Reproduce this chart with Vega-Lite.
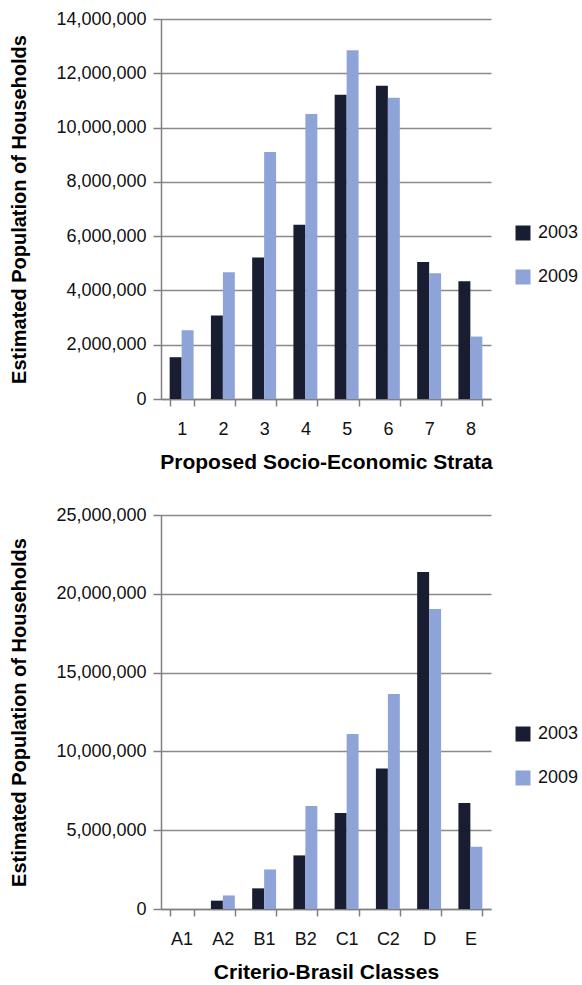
{
  "$schema": "https://vega.github.io/schema/vega-lite/v6.json",
  "padding": {"left": 9, "top": 10, "right": 0, "bottom": 2},
  "background": "white",
  "datasets": {
    "strata": [
      {"cat": "1", "year": "2003", "value": 1540000},
      {"cat": "1", "year": "2009", "value": 2530000},
      {"cat": "2", "year": "2003", "value": 3080000},
      {"cat": "2", "year": "2009", "value": 4670000},
      {"cat": "3", "year": "2003", "value": 5210000},
      {"cat": "3", "year": "2009", "value": 9100000},
      {"cat": "4", "year": "2003", "value": 6420000},
      {"cat": "4", "year": "2009", "value": 10500000},
      {"cat": "5", "year": "2003", "value": 11210000},
      {"cat": "5", "year": "2009", "value": 12850000},
      {"cat": "6", "year": "2003", "value": 11540000},
      {"cat": "6", "year": "2009", "value": 11100000},
      {"cat": "7", "year": "2003", "value": 5050000},
      {"cat": "7", "year": "2009", "value": 4630000},
      {"cat": "8", "year": "2003", "value": 4340000},
      {"cat": "8", "year": "2009", "value": 2300000}
    ],
    "classes": [
      {"cat": "A1", "year": "2003", "value": 0},
      {"cat": "A1", "year": "2009", "value": 0},
      {"cat": "A2", "year": "2003", "value": 530000},
      {"cat": "A2", "year": "2009", "value": 860000},
      {"cat": "B1", "year": "2003", "value": 1310000},
      {"cat": "B1", "year": "2009", "value": 2510000},
      {"cat": "B2", "year": "2003", "value": 3400000},
      {"cat": "B2", "year": "2009", "value": 6540000},
      {"cat": "C1", "year": "2003", "value": 6090000},
      {"cat": "C1", "year": "2009", "value": 11100000},
      {"cat": "C2", "year": "2003", "value": 8920000},
      {"cat": "C2", "year": "2009", "value": 13640000},
      {"cat": "D", "year": "2003", "value": 21380000},
      {"cat": "D", "year": "2009", "value": 19030000},
      {"cat": "E", "year": "2003", "value": 6730000},
      {"cat": "E", "year": "2009", "value": 3950000}
    ]
  },
  "config": {
    "font": "Liberation Sans",
    "view": {"stroke": null},
    "axis": {
      "labelFont": "Liberation Sans",
      "labelFontSize": 18,
      "labelColor": "#111111",
      "titleFont": "Liberation Sans",
      "titleFontSize": 20,
      "titleFontWeight": "bold",
      "titleColor": "#000000",
      "domainColor": "#808080",
      "domainWidth": 1.5,
      "tickColor": "#808080",
      "tickWidth": 1.5,
      "gridColor": "#8a8a8a",
      "gridWidth": 1.5
    },
    "axisX": {"titleFontSize": 21},
    "legend": {
      "labelFont": "Liberation Sans",
      "labelFontSize": 18,
      "labelColor": "#111111"
    }
  },
  "spacing": 34,
  "resolve": {"legend": {"color": "independent"}, "scale": {"x": "independent", "y": "independent"}},
  "vconcat": [
    {
      "data": {"name": "strata"},
      "width": 330,
      "height": 380,
      "mark": {"type": "bar"},
      "encoding": {
        "x": {
          "field": "cat", "type": "nominal", "sort": null,
          "scale": {"paddingInner": 0.42, "paddingOuter": 0.21},
          "axis": {"title": "Proposed Socio-Economic Strata", "labelAngle": 0, "tickBand": "extent", "tickSize": 7, "labelPadding": 14, "titlePadding": 13, "grid": false}
        },
        "xOffset": {"field": "year", "type": "nominal"},
        "y": {
          "field": "value", "type": "quantitative",
          "scale": {"domain": [0, 14000000], "nice": false},
          "axis": {"title": "Estimated Population of Households", "values": [0, 2000000, 4000000, 6000000, 8000000, 10000000, 12000000, 14000000], "format": ",.0f", "tickSize": 8, "labelPadding": 7, "titlePadding": 26, "grid": true}
        },
        "color": {
          "field": "year", "type": "nominal",
          "scale": {"domain": ["2003", "2009"], "range": ["#181d31", "#8ea3d8"]},
          "legend": {"title": null, "orient": "none", "legendX": 353, "legendY": 205, "symbolType": "square", "symbolSize": 225, "symbolStrokeWidth": 0, "symbolOpacity": 1, "rowPadding": 26, "labelOffset": 6}
        }
      }
    },
    {
      "data": {"name": "classes"},
      "width": 330,
      "height": 394,
      "mark": {"type": "bar"},
      "encoding": {
        "x": {
          "field": "cat", "type": "nominal", "sort": null,
          "scale": {"paddingInner": 0.42, "paddingOuter": 0.21},
          "axis": {"title": "Criterio-Brasil Classes", "labelAngle": 0, "tickBand": "extent", "tickSize": 7, "labelPadding": 14, "titlePadding": 13, "grid": false}
        },
        "xOffset": {"field": "year", "type": "nominal"},
        "y": {
          "field": "value", "type": "quantitative",
          "scale": {"domain": [0, 25000000], "nice": false},
          "axis": {"title": "Estimated Population of Households", "values": [0, 5000000, 10000000, 15000000, 20000000, 25000000], "format": ",.0f", "tickSize": 8, "labelPadding": 7, "titlePadding": 26, "grid": true}
        },
        "color": {
          "field": "year", "type": "nominal",
          "scale": {"domain": ["2003", "2009"], "range": ["#181d31", "#8ea3d8"]},
          "legend": {"title": null, "orient": "none", "legendX": 353, "legendY": 210, "symbolType": "square", "symbolSize": 225, "symbolStrokeWidth": 0, "symbolOpacity": 1, "rowPadding": 26, "labelOffset": 6}
        }
      }
    }
  ]
}
